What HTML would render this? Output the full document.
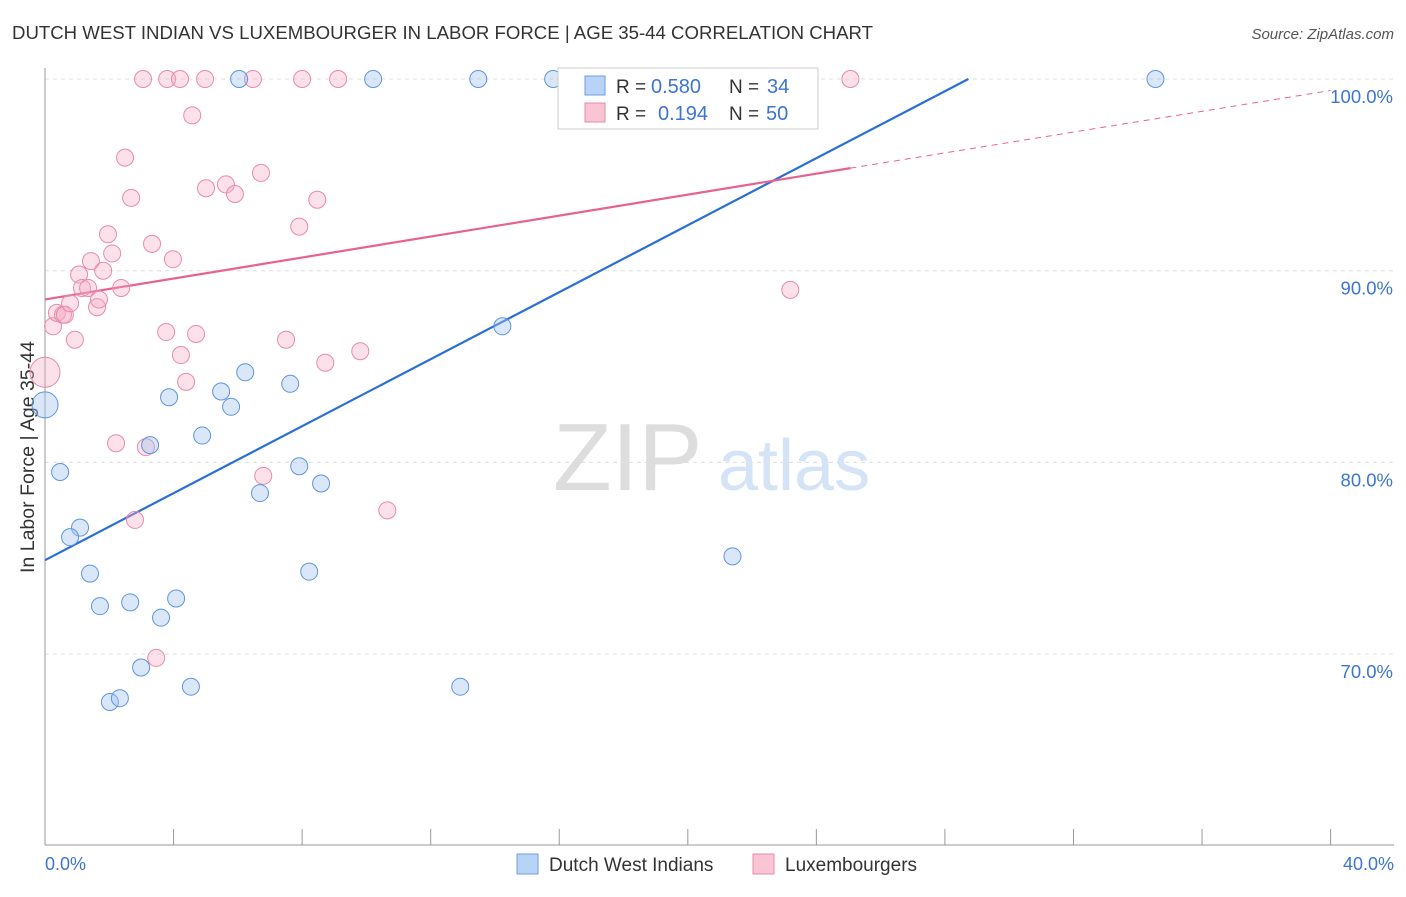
<!DOCTYPE html>
<html><head><meta charset="utf-8"><style>
body{margin:0;background:#fff;font-family:"Liberation Sans",sans-serif;}
svg text{font-family:"Liberation Sans",sans-serif;}
</style></head><body>
<svg id="chart" width="1406" height="892" xmlns="http://www.w3.org/2000/svg">
<text x="12" y="39" font-size="18" fill="#333" textLength="861" lengthAdjust="spacingAndGlyphs">DUTCH WEST INDIAN VS LUXEMBOURGER IN LABOR FORCE | AGE 35-44 CORRELATION CHART</text>
<text x="1394" y="39" font-size="15" fill="#555" text-anchor="end" font-style="italic">Source: ZipAtlas.com</text>
<g id="grid"></g>
<g><text x="553" y="490" font-size="96" fill="#ddd" font-family="Liberation Serif">ZIP</text><text x="718" y="490" font-size="72" fill="#d4e3f5">atlas</text></g>
<line x1="45" y1="68" x2="45" y2="845" stroke="#999"/>
<line x1="45" y1="845" x2="1394" y2="845" stroke="#999"/>
<text transform="translate(34,457) rotate(-90)" font-size="19" fill="#333" text-anchor="middle" textLength="232" lengthAdjust="spacingAndGlyphs">In Labor Force | Age 35-44</text>
<text x="45" y="870" font-size="18" fill="#3c74d4">0.0%</text>
<text x="1394" y="870" font-size="18" fill="#3c74d4" text-anchor="end">40.0%</text>
<g id="lines"></g>
<g id="pts"></g>
<g>
<rect x="558" y="68" width="260" height="61" fill="#fff" stroke="#ccc"/>
<rect x="585" y="76" width="20" height="19" fill="#b8d3f5" stroke="#6a9fe0"/>
<rect x="585" y="103" width="20" height="19" fill="#f9c4d4" stroke="#e68aa8"/>
<text x="616" y="93" font-size="19" fill="#333">R =</text><text x="651" y="93" font-size="20" fill="#3c74d4">0.580</text>
<text x="729" y="93" font-size="19" fill="#333">N =</text><text x="767" y="93" font-size="20" fill="#3c74d4">34</text>
<text x="616" y="120" font-size="19" fill="#333">R =</text><text x="658" y="120" font-size="20" fill="#3c74d4">0.194</text>
<text x="729" y="120" font-size="19" fill="#333">N =</text><text x="766" y="120" font-size="20" fill="#3c74d4">50</text>
</g>
<g><rect x="517" y="854" width="21" height="20" fill="#b8d3f5" stroke="#6a9fe0"/><text x="549" y="871" font-size="19" fill="#333">Dutch West Indians</text></g>
<g><rect x="753" y="854" width="21" height="20" fill="#f9c4d4" stroke="#e68aa8"/><text x="785" y="871" font-size="19" fill="#333">Luxembourgers</text></g>
</svg>
<script>
const yTicks=[100,90,80,70];
const yTickLabels=["100.0%","90.0%","80.0%","70.0%"];
const blueX=[0,0.47,1.09,0.78,1.40,1.71,2.65,2.02,2.33,2.99,3.61,4.08,4.54,3.27,3.86,4.89,5.48,5.79,6.23,7.63,6.69,7.91,8.59,8.22,6.04,10.21,13.48,15.81,16.37,14.23,12.92,21.39,34.55,16.4];
const blueY=[83.0,79.5,76.6,76.1,74.2,72.5,72.7,67.5,67.7,69.3,71.9,72.9,68.3,80.9,83.4,81.4,83.7,82.9,84.7,84.1,78.4,79.8,78.9,74.3,100,100,100,100,100,87.1,68.3,75.1,100,100];
const pinkX=[0,0.25,0.37,0.56,0.62,0.93,0.78,1.06,1.15,1.34,1.43,1.62,1.68,1.81,1.96,2.09,2.37,2.49,2.68,2.21,2.80,3.14,3.33,3.46,3.77,3.98,4.23,4.39,4.58,4.70,5.01,5.63,5.91,6.72,6.79,7.50,7.91,8.47,8.72,9.81,10.65,3.05,3.80,4.20,4.98,6.47,8.0,9.12,25.06,23.19];
const pinkY=[84.7,87.1,87.8,87.7,87.7,86.4,88.3,89.8,89.1,89.1,90.5,88.1,88.5,90.0,91.9,90.9,89.1,95.9,93.8,81.0,77.0,80.8,91.4,69.8,86.8,90.6,85.6,84.2,98.1,86.7,94.3,94.5,94.0,95.1,79.3,86.4,92.3,93.7,85.2,85.8,77.5,100,100,100,100,100,100,100,100,89.0];
const blueLine=[0,74.9,28.73,100];
const pinkLine=[0,88.5,25.06,95.35,40,99.4];
const NS="http://www.w3.org/2000/svg";
const sx=v=>45+v*32.14, sy=v=>79+(100-v)*19.17;
const svg=document.getElementById('chart');
function mk(t,a,p){const e=document.createElementNS(NS,t);for(const k in a)e.setAttribute(k,a[k]);p.appendChild(e);return e;}
const grid=document.getElementById('grid');
yTicks.forEach((t,i)=>{
 const l=mk('line',{x1:45,x2:1394,y1:sy(t),y2:sy(t),stroke:'#ddd','stroke-dasharray':'4,4'},grid);
 
 
 const tx=mk('text',{x:1393,y:sy(t)+24,'font-size':18.5,fill:'#3c74d4','text-anchor':'end'},grid);
 tx.textContent=yTickLabels[i];
 
 
});
for(let i=0;i<=10;i++){
 const l=mk('line',{x1:sx(i*4),x2:sx(i*4),y1:829,y2:845,stroke:'#999'},grid);
 
 
}
const lines=document.getElementById('lines');
const bl=mk('line',{x1:sx(blueLine[0]),y1:sy(blueLine[1]),x2:sx(blueLine[2]),y2:sy(blueLine[3]),stroke:'#2a6fd6','stroke-width':2.2},lines);


const pl=mk('line',{x1:sx(pinkLine[0]),y1:sy(pinkLine[1]),x2:sx(pinkLine[2]),y2:sy(pinkLine[3]),stroke:'#e8628e','stroke-width':2.2},lines);


const pd=mk('line',{x1:sx(pinkLine[2]),y1:sy(pinkLine[3]),x2:sx(pinkLine[4]),y2:sy(pinkLine[5]),stroke:'#e8628e','stroke-width':1,'stroke-dasharray':'6,5'},lines);


const pts=document.getElementById('pts');
pinkX.forEach((x,i)=>{
 const c=mk('circle',{cx:sx(x),cy:sy(pinkY[i]),r:i==0?15:8.5,fill:'rgba(246,170,196,0.35)',stroke:'#e88aab','stroke-width':1},pts);
 
 
});
blueX.forEach((x,i)=>{
 const c=mk('circle',{cx:sx(x),cy:sy(blueY[i]),r:i==0?13:8.5,fill:'rgba(160,196,240,0.4)',stroke:'#5f95dc','stroke-width':1},pts);
 
 
});
</script>
</body></html>
